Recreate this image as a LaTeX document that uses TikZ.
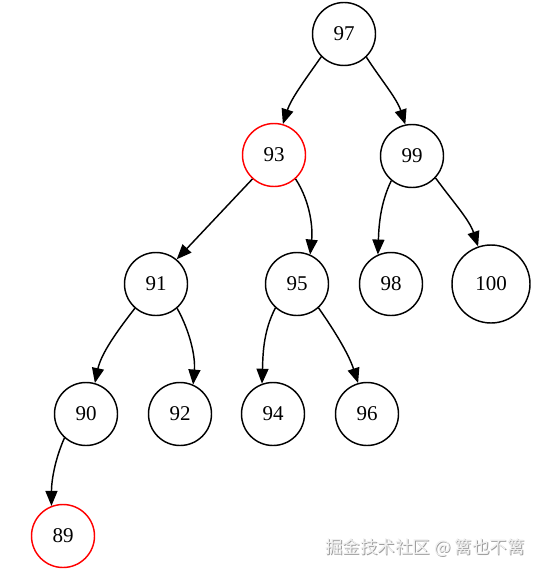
\documentclass[tikz,border=0pt]{standalone}
\usepackage{fontspec}
\setmainfont{Liberation Serif}
\newfontfamily\cjk{Noto Sans CJK SC}
\usetikzlibrary{arrows.meta}
\begin{document}
\begin{tikzpicture}[x=1pt,y=1pt,
  bnode/.style={circle,draw,line width=1.45pt,minimum size=63pt,inner sep=0pt,font=\fontsize{21}{21}\selectfont},
  rnode/.style={bnode,draw=red},
  edge/.style={line width=1.45pt,-{Triangle[length=15pt,width=12pt]}},
  wmark/.style={font=\cjk\fontsize{17.5}{17.5}\selectfont,inner sep=0pt}]
\useasboundingbox (0,0) rectangle (549,-575);
\fill[white] (0,0) rectangle (549,-575);
\node[bnode] (n97) at (344,-34) {97};
\node[rnode] (n93) at (274,-155) {93};
\node[bnode] (n99) at (412,-156) {99};
\node[bnode] (n91) at (156,-284) {91};
\node[bnode] (n95) at (297,-284) {95};
\node[bnode] (n98) at (391,-284) {98};
\node[bnode,minimum size=78pt] (n100) at (491,-284) {100};
\node[bnode] (n90) at (86,-414) {90};
\node[bnode] (n92) at (180,-414) {92};
\node[bnode] (n94) at (273,-414) {94};
\node[bnode] (n96) at (367,-414) {96};
\node[rnode] (n89) at (63,-536) {89};
\draw[edge] (n97.-135) to[out=-125,in=72,looseness=0.9] (n93.74);
\draw[edge] (n97.-46) to[out=-57,in=108,looseness=0.9] (n99.102);
\draw[edge] (n93.-132) -- (n91.50);
\draw[edge] (n93.-48) to[out=-57,in=84,looseness=0.9] (n95.66);
\draw[edge] (n99.-130) to[out=-116,in=88,looseness=0.9] (n98.114);
\draw[edge] (n99.-43) to[out=-54,in=108,looseness=0.9] (n100.109);
\draw[edge] (n91.-131) to[out=-128,in=78,looseness=0.9] (n90.74);
\draw[edge] (n91.-49) to[out=-61,in=85,looseness=0.9] (n92.66);
\draw[edge] (n95.-132) to[out=-118,in=88,looseness=0.9] (n94.110);
\draw[edge] (n95.-48) to[out=-55,in=108,looseness=0.9] (n96.106);
\draw[edge] (n90.-132) to[out=-114,in=90,looseness=0.9] (n89.111);
\node[wmark,text=gray!75] (wms) at (425.8,-548.8) {掘金技术社区 @ 篱也不篱};
\node[wmark,text=gray!12] (wm) at (425,-548) {掘金技术社区 @ 篱也不篱};
\end{tikzpicture}
\end{document}
